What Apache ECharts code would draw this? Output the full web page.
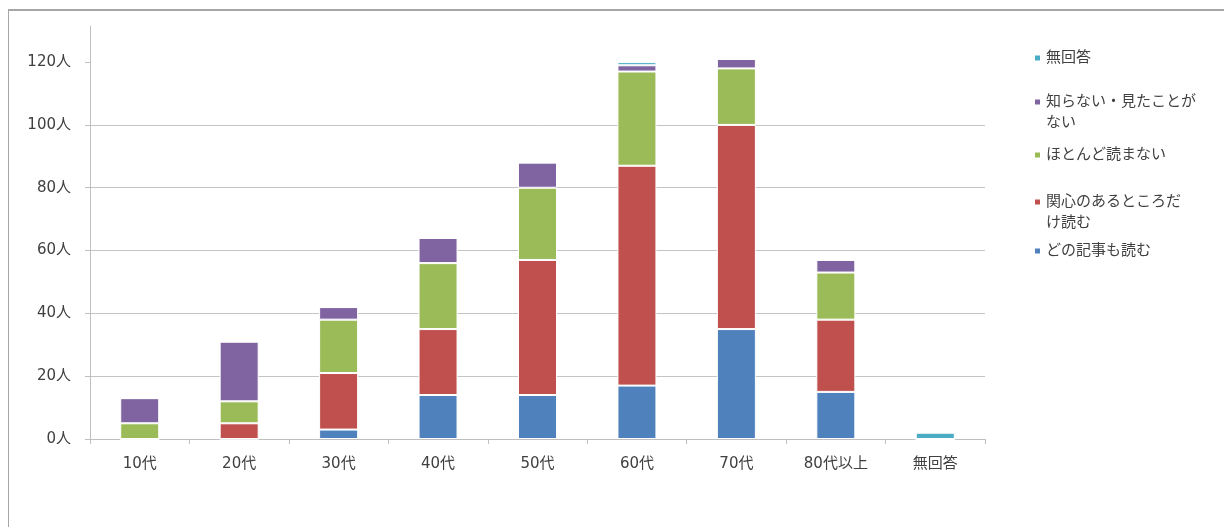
<!DOCTYPE html>
<html>
<head>
<meta charset="utf-8">
<script src="https://cdn.jsdelivr.net/npm/echarts@6/dist/echarts.min.js"></script>
<style>
  html, body { margin: 0; padding: 0; background: #ffffff; }
  #chart { width: 1224px; height: 527px; }
  #frame {
    position: absolute; left: 8px; top: 9px; right: -2px; bottom: -2px;
    border-top: 2px solid #a6a6a6; border-left: 1px solid #a6a6a6;
    pointer-events: none;
  }
</style>
</head>
<body>
<div id="chart"></div>
<div id="frame"></div>
<script>
// 年代別の回答者数（人）
const categories = ['10代', '20代', '30代', '40代', '50代', '60代', '70代', '80代以上', '無回答'];
const yTicks = [0, 20, 40, 60, 80, 100, 120];

const readAll      = [0, 0, 3, 14, 14, 17, 35, 15, 0];   // どの記事も読む
const readSome     = [0, 5, 18, 21, 43, 70, 65, 23, 0];  // 関心のあるところだけ読む
const rarelyRead   = [5, 7, 17, 21, 23, 30, 18, 15, 0];  // ほとんど読まない
const neverSeen    = [8, 19, 4, 8, 8, 2, 3, 4, 0];       // 知らない・見たことがない
const noAnswer     = [0, 0, 0, 0, 0, 1, 0, 0, 2];        // 無回答

const seriesDefs = [
  { name: 'どの記事も読む', lines: ['どの記事も読む'], data: readAll, color: '#4f81bd' },
  { name: '関心のあるところだけ読む', lines: ['関心のあるところだ', 'け読む'], data: readSome, color: '#c0504d' },
  { name: 'ほとんど読まない', lines: ['ほとんど読まない'], data: rarelyRead, color: '#9bbb59' },
  { name: '知らない・見たことがない', lines: ['知らない・見たことが', 'ない'], data: neverSeen, color: '#8064a2' },
  { name: '無回答', lines: ['無回答'], data: noAnswer, color: '#4bacc6' }
];

// 凡例の 1 行目の縦中心位置
const legendRows = { '無回答': 58, '知らない・見たことがない': 102, 'ほとんど読まない': 155, '関心のあるところだけ読む': 202, 'どの記事も読む': 251 };
const LEGEND_LH = 21;

const FONT = '"DejaVu Sans", "Noto Sans CJK JP", sans-serif';
const TEXT = '#404040';

// 2 行の凡例は先頭に空行を入れ、マーカーを 1 行目に揃える
const legends = seriesDefs.map(s => {
  const text = s.lines.length > 1 ? '\n' + s.lines.join('\n') : s.lines[0];
  const nLines = s.lines.length > 1 ? 3 : 1;
  return {
    data: [s.name],
    left: 1033,
    top: legendRows[s.name] - nLines * LEGEND_LH / 2,
    orient: 'vertical',
    padding: 0,
    itemWidth: 7,
    itemHeight: 7,
    itemGap: 0,
    icon: 'rect',
    selectedMode: false,
    formatter: () => text,
    textStyle: { fontFamily: FONT, fontSize: 15, color: TEXT, lineHeight: LEGEND_LH }
  };
});

const Y_TOP = 131.5; // 縦軸線は 120 の目盛りより上まで伸びる

const chart = echarts.init(document.getElementById('chart'), null, { renderer: 'canvas' });
chart.setOption({
  animation: false,
  backgroundColor: 'transparent',
  legend: legends,
  grid: { left: 90, right: 239, top: 26, bottom: 88, containLabel: false },
  xAxis: {
    type: 'category',
    data: categories,
    boundaryGap: true,
    axisLine: { lineStyle: { color: '#bfbfbf', width: 1 } },
    axisTick: { show: true, alignWithLabel: false, length: 5, lineStyle: { color: '#bfbfbf' } },
    axisLabel: { fontFamily: FONT, fontSize: 15, color: TEXT, margin: 18 }
  },
  yAxis: {
    type: 'value',
    min: yTicks[0],
    max: Y_TOP,
    interval: yTicks[1] - yTicks[0],
    axisLine: { show: true, lineStyle: { color: '#bfbfbf', width: 1 } },
    axisTick: { show: true, length: 5, lineStyle: { color: '#bfbfbf' }, customValues: yTicks },
    splitLine: { showMaxLine: false, lineStyle: { color: '#c4c4c4', width: 1 } },
    axisLabel: {
      fontFamily: FONT, fontSize: 15, color: TEXT, margin: 19,
      customValues: yTicks,
      formatter: v => (yTicks.indexOf(v) >= 0 ? v + '人' : '')
    }
  },
  series: seriesDefs.map(s => ({
    name: s.name,
    type: 'bar',
    stack: 'total',
    data: s.data,
    barWidth: 39,
    itemStyle: { color: s.color, borderColor: '#ffffff', borderWidth: 1 }
  }))
});
</script>
</body>
</html>
